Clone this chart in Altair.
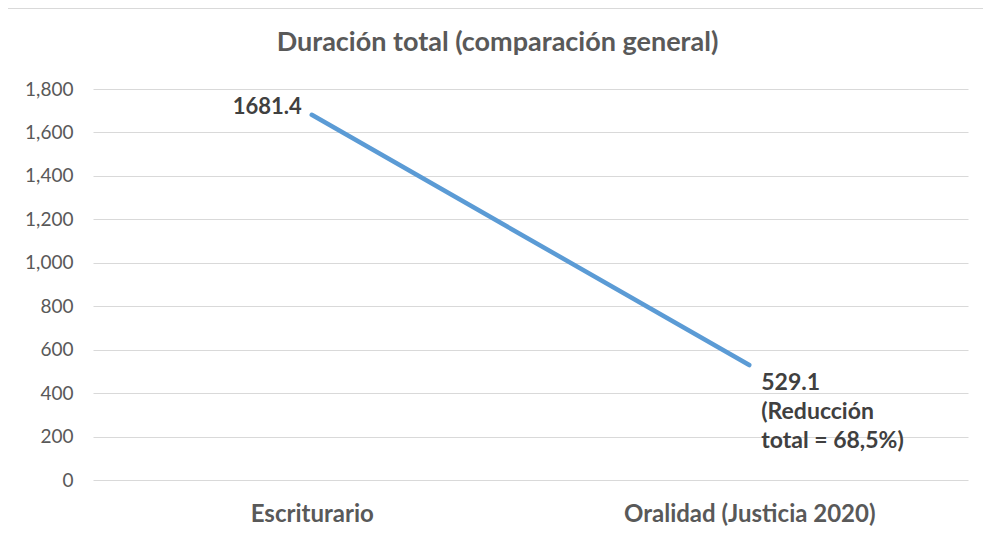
import altair as alt
import pandas as pd

categories = ["Escriturario", "Oralidad (Justicia 2020)"]
values = [1681.4, 529.1]
label_start = ["1681.4"]
label_end = ["529.1", "(Reducción", "total = 68,5%)"]

df = pd.DataFrame({"cat": categories, "val": values})

FONT = "Lato"
GREY = "#595959"

x = alt.X("cat:N", sort=categories, title=None,
          scale=alt.Scale(type="point", padding=0.5),
          axis=alt.Axis(labelAngle=0, labelFontSize=24, labelFontWeight="bold",
                        labelColor=GREY, labelFont=FONT, ticks=False, domain=False,
                        labelPadding=22, grid=False, labelLimit=0))
y = alt.Y("val:Q", title=None,
          scale=alt.Scale(domain=[0, 1800]),
          axis=alt.Axis(values=list(range(0, 1801, 200)), format=",d",
                        labelFontSize=19, labelColor=GREY, labelFont=FONT,
                        ticks=False, domain=False, labelPadding=20,
                        gridColor="#d9d9d9", gridWidth=1.2))

line = alt.Chart(df).mark_line(color="#5B9BD5", strokeWidth=4.5, strokeCap="round").encode(x=x, y=y)

start_df = pd.DataFrame({"cat": [categories[0]], "val": [values[0]], "txt": [label_start[0]]})
t1 = alt.Chart(start_df).mark_text(align="right", baseline="middle", dx=-10, dy=-8,
                                   fontSize=22, fontWeight="bold", color="#404040",
                                   font=FONT).encode(x=x, y=y, text="txt:N")

end_df = pd.DataFrame({"cat": [categories[1]], "val": [values[1]], "txt": [label_end]})
t2 = alt.Chart(end_df).mark_text(align="left", baseline="top", dx=12, dy=7,
                                 fontSize=23, fontWeight="bold", color="#404040",
                                 lineHeight=29, font=FONT).encode(x=x, y=y, text="txt")

top_border = alt.Chart(df).mark_rule(color="#d9d9d9", strokeWidth=2, clip=False).encode(
    x=alt.value(-88), x2=alt.value(900), y=alt.value(-81))
left_border = alt.Chart(df).mark_rule(color="#d9d9d9", strokeWidth=2, clip=False).encode(
    x=alt.value(-87), y=alt.value(-81), y2=alt.value(460))

chart = alt.layer(top_border, left_border, line, t1, t2).properties(
    width=875, height=391,
    view=alt.ViewBackground(stroke="transparent", strokeWidth=0),
    title=alt.TitleParams("Duración total (comparación general)", fontSize=27,
                          fontWeight="bold", color=GREY, font=FONT,
                          anchor="middle", dx=-33, dy=50, offset=0),
    autosize=alt.AutoSizeParams(type="none"),
    padding={"left": 85, "top": 81, "right": 15, "bottom": 48},
).configure_view(strokeWidth=0, stroke="transparent").configure_axisX(grid=False).configure(background="white")

chart.save("out.html", embed_options={"renderer": "svg", "actions": False})
